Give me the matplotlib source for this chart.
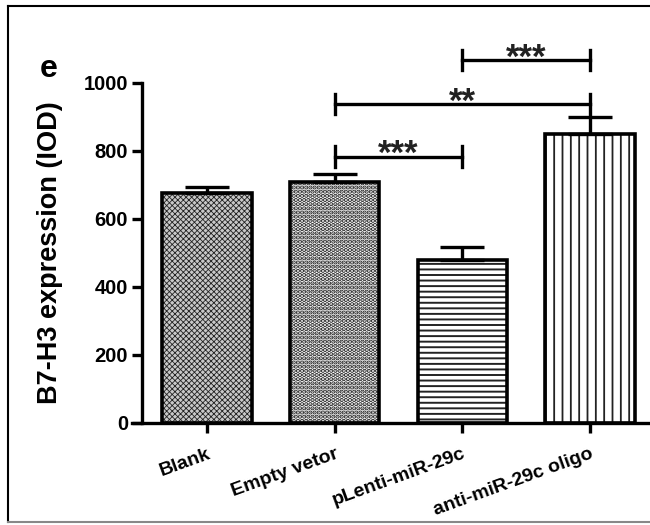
import matplotlib
matplotlib.use("Agg")
import matplotlib.pyplot as plt
import matplotlib.transforms as mtransforms
from matplotlib.lines import Line2D

# data
groups = ["Blank", "Empty vetor", "pLenti-miR-29c", "anti-miR-29c oligo"]
means = [675, 708, 478, 850]
sems = [18, 24, 40, 48]
hatches = ["xxxxxx", "....", "---", "||"]
faces = ["#c8c8c8", "white", "white", "white"]
hatch_lw = [0.6, 2.2, 1.4, 1.3]

# significance brackets: (left group, right group, height, label)
brackets = [(1, 2, 783, "***"), (1, 3, 937, "**"), (2, 3, 1066, "***")]

plt.rcParams['font.family'] = ['Liberation Sans', 'DejaVu Sans']
plt.rcParams['font.weight'] = 'bold'

fig = plt.figure(figsize=(6.5, 5.25), dpi=100)
ax = fig.add_axes([142/650, 1 - 423/525, 508/650, (423 - 82.7)/525])

x = list(range(len(groups)))
for i in x:
    with plt.rc_context({'hatch.linewidth': hatch_lw[i]}):
        ax.bar(i, means[i], width=0.7, color=faces[i], hatch=hatches[i],
               edgecolor="#222222", linewidth=0, zorder=2)
    ax.bar(i, means[i], width=0.7, fill=False, edgecolor="black",
           linewidth=2.6, zorder=3)
    ax.errorbar(i, means[i], yerr=[[0], [sems[i]]], fmt="none",
                ecolor="black", elinewidth=2.4, capsize=16, capthick=2.4,
                zorder=4)

# brackets
for a, b, h, lab in brackets:
    ax.plot([a, b], [h, h], color="black", lw=2.4, clip_on=False, zorder=5)
    ax.plot([a, a], [h - 30, h + 30], color="black", lw=2.4, clip_on=False)
    ax.plot([b, b], [h - 30, h + 30], color="black", lw=2.4, clip_on=False)
    ax.text((a + b) / 2, h - 22, lab, ha="center", va="baseline",
            fontsize=25, fontweight="bold", color="#222222")

ax.set_xlim(-0.51, 3.47)
ax.set_ylim(0, 1000)
ax.set_yticks([0, 200, 400, 600, 800, 1000])
ax.set_xticks(x)
ax.set_xticklabels(groups, rotation=20, ha="right", rotation_mode="anchor",
                   fontsize=14, fontweight="bold")
shift = mtransforms.ScaledTranslation(6/100, 0, fig.dpi_scale_trans)
for lab in ax.get_xticklabels():
    lab.set_transform(lab.get_transform() + shift)
ax.tick_params(axis="y", labelsize=14.5, width=2.4, length=7, pad=3)
ax.tick_params(axis="x", width=2.4, length=7, pad=9)

ax.spines["top"].set_visible(False)
ax.spines["right"].set_visible(False)
ax.spines["left"].set_linewidth(2.4)
ax.spines["bottom"].set_linewidth(2.4)
ax.spines["bottom"].set_bounds(-0.51 - 0.08, 3.47)
ax.spines["bottom"].set_clip_on(False)

ax.set_ylabel("B7-H3 expression (IOD)", fontsize=19.5, fontweight="bold")
ax.yaxis.set_label_coords(-0.155, 0.5)
fig.text(49/650, 1 - 69/525, "e", fontsize=23, fontweight="bold",
         ha="center", va="center")

# outer frame of the panel (right side cropped off)
fig.add_artist(Line2D([8/650, 8/650], [3/525, 1 - 6/525], color="black",
                      lw=1.5, transform=fig.transFigure))
fig.add_artist(Line2D([8/650, 1], [1 - 6/525, 1 - 6/525], color="black",
                      lw=1.5, transform=fig.transFigure))
fig.add_artist(Line2D([8/650, 1], [3/525, 3/525], color="#888888",
                      lw=1.5, transform=fig.transFigure))

fig.savefig("out.png", dpi=100)
